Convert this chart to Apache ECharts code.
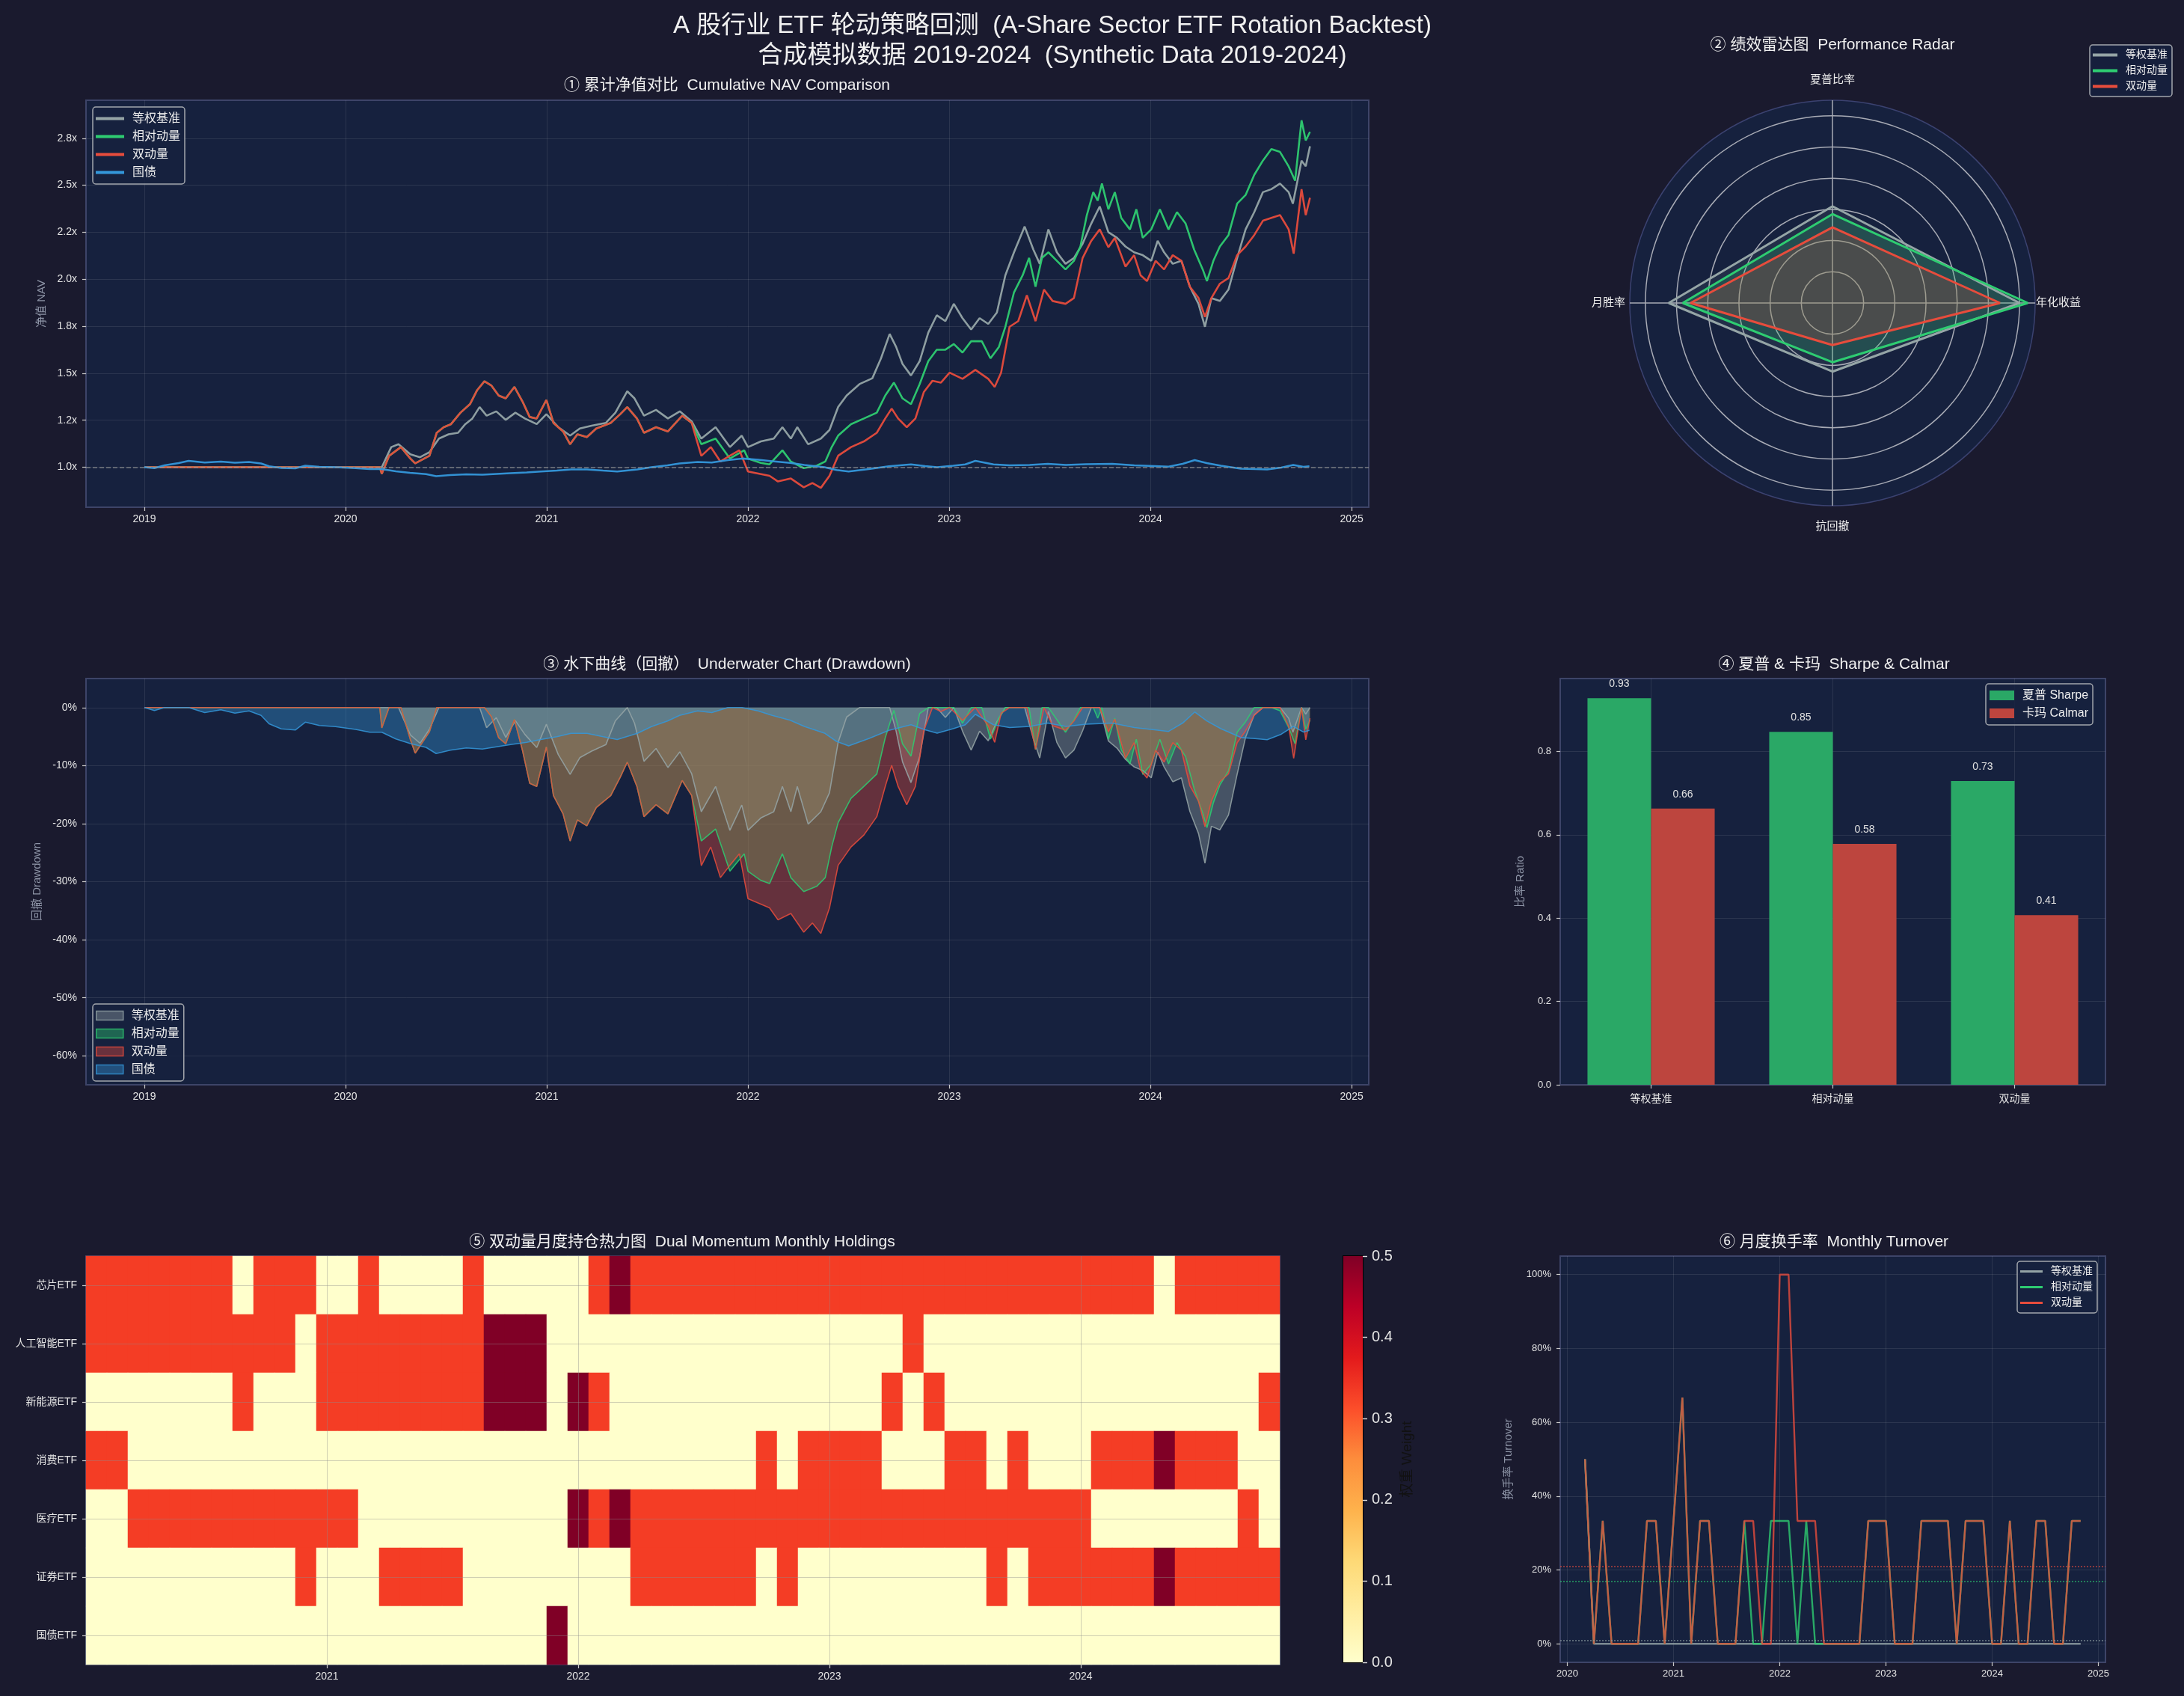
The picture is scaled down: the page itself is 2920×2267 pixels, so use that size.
<!DOCTYPE html>
<html>
<head>
<meta charset="utf-8">
<script src="https://cdn.jsdelivr.net/npm/echarts@6.0.0/dist/echarts.min.js"></script>
<style>
  html, body { margin: 0; padding: 0; background: #1a1a2e; }
  #main { width: 2920px; height: 2267px; }
</style>
</head>
<body>
<div id="main"></div>
<script>
// ---------- data ----------
var names = ['等权基准', '相对动量', '双动量', '国债'];
var colors = ['#95a5a6', '#2ecc71', '#e74c3c', '#3498db'];

var navYears = [2019, 2020, 2021, 2022, 2023, 2024, 2025];
var navTicks = [1.0, 1.25, 1.5, 1.75, 2.0, 2.25, 2.5, 2.75];
var navTickLabels = ['1.0x', '1.2x', '1.5x', '1.8x', '2.0x', '2.2x', '2.5x', '2.8x'];
var ddTicks = [0, -0.1, -0.2, -0.3, -0.4, -0.5, -0.6];

// [decimal year, NAV]
var navEqual = [[2019.00,1.000],[2020.17,1.000],[2020.18,1.000],[2020.227,1.107],[2020.263,1.122],[2020.322,1.069],[2020.370,1.053],[2020.417,1.080],[2020.464,1.152],[2020.512,1.175],[2020.559,1.183],[2020.595,1.229],[2020.630,1.259],[2020.666,1.320],[2020.701,1.274],[2020.749,1.297],[2020.796,1.252],[2020.844,1.290],[2020.891,1.259],[2020.950,1.229],[2020.998,1.282],[2021.057,1.213],[2021.116,1.168],[2021.164,1.206],[2021.223,1.221],[2021.294,1.236],[2021.341,1.290],[2021.400,1.404],[2021.436,1.366],[2021.483,1.274],[2021.543,1.305],[2021.602,1.259],[2021.661,1.297],[2021.720,1.244],[2021.768,1.152],[2021.839,1.213],[2021.910,1.107],[2021.969,1.168],[2022.000,1.107],[2022.064,1.137],[2022.128,1.152],[2022.171,1.213],[2022.213,1.152],[2022.245,1.213],[2022.299,1.122],[2022.362,1.152],[2022.405,1.198],[2022.448,1.320],[2022.490,1.381],[2022.554,1.442],[2022.618,1.473],[2022.661,1.579],[2022.704,1.709],[2022.736,1.640],[2022.768,1.549],[2022.810,1.488],[2022.853,1.564],[2022.896,1.716],[2022.938,1.808],[2022.981,1.777],[2023.023,1.869],[2023.066,1.793],[2023.109,1.732],[2023.151,1.793],[2023.194,1.762],[2023.237,1.823],[2023.279,2.021],[2023.322,2.143],[2023.375,2.280],[2023.418,2.158],[2023.450,2.082],[2023.493,2.265],[2023.535,2.143],[2023.578,2.082],[2023.620,2.113],[2023.663,2.189],[2023.706,2.296],[2023.748,2.387],[2023.791,2.250],[2023.834,2.220],[2023.876,2.174],[2023.919,2.143],[2023.962,2.128],[2024.004,2.098],[2024.036,2.204],[2024.068,2.143],[2024.111,2.082],[2024.154,2.098],[2024.196,1.960],[2024.239,1.869],[2024.271,1.747],[2024.303,1.899],[2024.345,1.884],[2024.388,1.945],[2024.431,2.113],[2024.473,2.265],[2024.516,2.357],[2024.559,2.463],[2024.601,2.479],[2024.644,2.509],[2024.687,2.463],[2024.708,2.402],[2024.751,2.631],[2024.772,2.601],[2024.793,2.707]];

var navRel = [[2019.00,1.000],[2020.17,1.000],[2020.18,0.965],[2020.216,1.060],[2020.275,1.107],[2020.322,1.046],[2020.346,1.020],[2020.417,1.061],[2020.453,1.183],[2020.488,1.213],[2020.524,1.229],[2020.571,1.290],[2020.618,1.335],[2020.654,1.410],[2020.690,1.457],[2020.725,1.434],[2020.761,1.381],[2020.796,1.366],[2020.839,1.427],[2020.879,1.350],[2020.915,1.267],[2020.950,1.259],[2020.998,1.358],[2021.033,1.236],[2021.081,1.190],[2021.116,1.122],[2021.152,1.175],[2021.199,1.160],[2021.246,1.206],[2021.318,1.236],[2021.365,1.282],[2021.400,1.320],[2021.448,1.259],[2021.483,1.183],[2021.543,1.213],[2021.602,1.190],[2021.673,1.274],[2021.720,1.236],[2021.768,1.122],[2021.839,1.152],[2021.910,1.046],[2021.981,1.090],[2022.000,1.046],[2022.064,1.023],[2022.107,1.015],[2022.171,1.090],[2022.213,1.030],[2022.277,0.995],[2022.341,1.008],[2022.384,1.030],[2022.416,1.107],[2022.448,1.168],[2022.512,1.229],[2022.576,1.259],[2022.640,1.290],[2022.682,1.381],[2022.725,1.450],[2022.768,1.366],[2022.810,1.335],[2022.853,1.442],[2022.896,1.564],[2022.938,1.625],[2022.981,1.625],[2023.023,1.655],[2023.066,1.610],[2023.109,1.670],[2023.162,1.670],[2023.205,1.579],[2023.247,1.640],[2023.279,1.747],[2023.322,1.930],[2023.365,2.021],[2023.397,2.113],[2023.429,1.960],[2023.461,2.113],[2023.493,2.143],[2023.535,2.098],[2023.578,2.052],[2023.620,2.098],[2023.652,2.174],[2023.684,2.341],[2023.716,2.463],[2023.738,2.418],[2023.759,2.509],[2023.791,2.372],[2023.823,2.463],[2023.855,2.326],[2023.898,2.265],[2023.930,2.372],[2023.962,2.220],[2024.004,2.265],[2024.047,2.372],[2024.090,2.265],[2024.132,2.357],[2024.175,2.296],[2024.217,2.158],[2024.260,2.052],[2024.281,1.990],[2024.313,2.098],[2024.345,2.174],[2024.388,2.235],[2024.431,2.402],[2024.473,2.448],[2024.516,2.555],[2024.559,2.631],[2024.601,2.692],[2024.644,2.677],[2024.687,2.600],[2024.719,2.524],[2024.751,2.845],[2024.772,2.738],[2024.793,2.784]];

var navDual = [[2019.00,1.000],[2020.17,1.000],[2020.18,0.965],[2020.216,1.060],[2020.275,1.107],[2020.322,1.046],[2020.346,1.020],[2020.417,1.061],[2020.453,1.183],[2020.488,1.213],[2020.524,1.229],[2020.571,1.290],[2020.618,1.335],[2020.654,1.410],[2020.690,1.457],[2020.725,1.434],[2020.761,1.381],[2020.796,1.366],[2020.839,1.427],[2020.879,1.350],[2020.915,1.267],[2020.950,1.259],[2020.998,1.358],[2021.033,1.236],[2021.081,1.190],[2021.116,1.122],[2021.152,1.175],[2021.199,1.160],[2021.246,1.206],[2021.318,1.236],[2021.365,1.282],[2021.400,1.320],[2021.448,1.259],[2021.483,1.183],[2021.543,1.213],[2021.602,1.190],[2021.673,1.274],[2021.720,1.236],[2021.768,1.060],[2021.815,1.107],[2021.863,1.030],[2021.910,1.061],[2021.957,1.090],[2022.000,0.977],[2022.107,0.954],[2022.149,0.924],[2022.213,0.940],[2022.277,0.893],[2022.320,0.916],[2022.362,0.890],[2022.405,0.954],[2022.448,1.061],[2022.512,1.107],[2022.576,1.137],[2022.640,1.183],[2022.682,1.259],[2022.714,1.312],[2022.746,1.259],[2022.789,1.213],[2022.832,1.259],[2022.874,1.400],[2022.917,1.460],[2022.959,1.450],[2023.002,1.503],[2023.066,1.470],[2023.130,1.518],[2023.194,1.470],[2023.226,1.427],[2023.258,1.503],[2023.300,1.747],[2023.343,1.777],[2023.386,1.915],[2023.429,1.777],[2023.471,1.945],[2023.514,1.884],[2023.578,1.869],[2023.620,1.900],[2023.663,2.113],[2023.706,2.204],[2023.748,2.265],[2023.791,2.170],[2023.823,2.220],[2023.876,2.067],[2023.919,2.128],[2023.951,2.021],[2023.983,1.990],[2024.026,2.098],[2024.068,2.052],[2024.111,2.128],[2024.154,2.098],[2024.196,1.960],[2024.239,1.900],[2024.271,1.800],[2024.303,1.900],[2024.345,1.976],[2024.388,2.006],[2024.431,2.128],[2024.473,2.174],[2024.516,2.235],[2024.559,2.311],[2024.601,2.326],[2024.644,2.341],[2024.687,2.265],[2024.712,2.136],[2024.751,2.479],[2024.772,2.341],[2024.793,2.433]];

var navBond = [[2019.00,1.000],[2019.05,0.995],[2019.10,1.010],[2019.17,1.022],[2019.22,1.034],[2019.30,1.025],[2019.38,1.030],[2019.45,1.024],[2019.52,1.028],[2019.58,1.020],[2019.62,1.005],[2019.68,0.996],[2019.75,0.994],[2019.80,1.008],[2019.87,1.002],[2019.95,1.000],[2020.05,0.995],[2020.12,0.990],[2020.18,0.990],[2020.25,0.978],[2020.32,0.970],[2020.40,0.963],[2020.45,0.952],[2020.52,0.958],[2020.60,0.962],[2020.68,0.960],[2020.75,0.964],[2020.82,0.968],[2020.90,0.972],[2020.97,0.977],[2021.05,0.982],[2021.12,0.988],[2021.20,0.988],[2021.28,0.982],[2021.35,0.977],[2021.45,0.988],[2021.52,1.000],[2021.60,1.010],[2021.66,1.020],[2021.75,1.028],[2021.82,1.025],[2021.90,1.038],[2021.97,1.046],[2022.05,1.040],[2022.12,1.032],[2022.21,1.023],[2022.28,1.012],[2022.38,1.000],[2022.44,0.985],[2022.50,0.977],[2022.60,0.990],[2022.70,1.005],[2022.81,1.015],[2022.88,1.006],[2022.94,1.000],[2023.02,1.008],[2023.08,1.015],[2023.13,1.034],[2023.22,1.015],[2023.30,1.010],[2023.40,1.012],[2023.49,1.018],[2023.58,1.012],[2023.68,1.016],[2023.81,1.018],[2023.92,1.010],[2024.02,1.006],[2024.09,1.003],[2024.16,1.018],[2024.22,1.038],[2024.28,1.022],[2024.35,1.008],[2024.45,0.992],[2024.52,0.990],[2024.58,0.988],[2024.65,0.998],[2024.71,1.012],[2024.76,1.002],[2024.79,1.005]];

var radarAxes = ['年化收益', '夏普比率', '月胜率', '抗回撤'];
var radarRings = [0.2, 0.4, 0.6, 0.8, 1.0, 1.2];
var radarEqual = [1.20, 0.62, 1.05, 0.44];
var radarRel = [1.253, 0.57, 0.96, 0.38];
var radarDual = [1.075, 0.485, 0.91, 0.27];

var ratioCats = ['等权基准', '相对动量', '双动量'];
var sharpe = [0.928, 0.847, 0.729];
var calmar = [0.663, 0.578, 0.407];
var ratioTicks = [0, 0.2, 0.4, 0.6, 0.8];

var months = ['2020-02','2020-03','2020-04','2020-05','2020-06','2020-07','2020-08','2020-09','2020-10','2020-11','2020-12',
  '2021-01','2021-02','2021-03','2021-04','2021-05','2021-06','2021-07','2021-08','2021-09','2021-10','2021-11','2021-12',
  '2022-01','2022-02','2022-03','2022-04','2022-05','2022-06','2022-07','2022-08','2022-09','2022-10','2022-11','2022-12',
  '2023-01','2023-02','2023-03','2023-04','2023-05','2023-06','2023-07','2023-08','2023-09','2023-10','2023-11','2023-12',
  '2024-01','2024-02','2024-03','2024-04','2024-05','2024-06','2024-07','2024-08','2024-09','2024-10'];
var etfs = ['芯片ETF', '人工智能ETF', '新能源ETF', '消费ETF', '医疗ETF', '证券ETF', '国债ETF'];
var weightMax = 0.5;
var wChip = [0.333,0.333,0.333,0.333,0.333,0.333,0.333,0,0.333,0.333,0.333,
  0,0,0.333,0,0,0,0,0.333,0,0,0,0,
  0,0.333,0.5,0.333,0.333,0.333,0.333,0.333,0.333,0.333,0.333,0.333,
  0.333,0.333,0.333,0.333,0.333,0.333,0.333,0.333,0.333,0.333,0.333,0.333,
  0.333,0.333,0.333,0.333,0,0.333,0.333,0.333,0.333,0.333];
var wAI = [0.333,0.333,0.333,0.333,0.333,0.333,0.333,0.333,0.333,0.333,0,
  0.333,0.333,0.333,0.333,0.333,0.333,0.333,0.333,0.5,0.5,0.5,0,
  0,0,0,0,0,0,0,0,0,0,0,0,
  0,0,0,0,0.333,0,0,0,0,0,0,0,
  0,0,0,0,0,0,0,0,0,0];
var wNewEnergy = [0,0,0,0,0,0,0,0.333,0,0,0,
  0.333,0.333,0.333,0.333,0.333,0.333,0.333,0.333,0.5,0.5,0.5,0,
  0.5,0.333,0,0,0,0,0,0,0,0,0,0,
  0,0,0,0.333,0,0.333,0,0,0,0,0,0,
  0,0,0,0,0,0,0,0,0,0.333];
var wConsumer = [0.333,0.333,0,0,0,0,0,0,0,0,0,
  0,0,0,0,0,0,0,0,0,0,0,0,
  0,0,0,0,0,0,0,0,0,0.333,0,0.333,
  0.333,0.333,0.333,0,0,0,0.333,0.333,0,0.333,0,0,
  0,0.333,0.333,0.333,0.5,0.333,0.333,0.333,0,0];
var wMedical = [0,0,0.333,0.333,0.333,0.333,0.333,0.333,0.333,0.333,0.333,
  0.333,0.333,0,0,0,0,0,0,0,0,0,0,
  0.5,0.333,0.5,0.333,0.333,0.333,0.333,0.333,0.333,0.333,0.333,0.333,
  0.333,0.333,0.333,0.333,0.333,0.333,0.333,0.333,0.333,0.333,0.333,0.333,
  0.333,0,0,0,0,0,0,0,0.333,0];
var wBroker = [0,0,0,0,0,0,0,0,0,0,0.333,
  0,0,0,0.333,0.333,0.333,0.333,0,0,0,0,0,
  0,0,0,0.333,0.333,0.333,0.333,0.333,0.333,0,0.333,0,
  0,0,0,0,0,0,0,0,0.333,0,0.333,0.333,
  0.333,0.333,0.333,0.333,0.5,0.333,0.333,0.333,0.333,0.333];
var wBond = [0,0,0,0,0,0,0,0,0,0,0,
  0,0,0,0,0,0,0,0,0,0,0,1,
  0,0,0,0,0,0,0,0,0,0,0,0,
  0,0,0,0,0,0,0,0,0,0,0,0,
  0,0,0,0,0,0,0,0,0,0];
var ylorrd = ['#ffffcc', '#ffeda0', '#fed976', '#feb24c', '#fd8d3c', '#fc4e2a', '#e31a1c', '#bd0026', '#800026'];

var turnYears = [2020, 2021, 2022, 2023, 2024, 2025];
var turnTicks = [0, 0.2, 0.4, 0.6, 0.8, 1.0];
var turnEqual = [0.5,0,0,0,0,0,0,0,0,0,0,
  0,0,0,0,0,0,0,0,0,0,0,0,
  0,0,0,0,0,0,0,0,0,0,0,0,
  0,0,0,0,0,0,0,0,0,0,0,0,
  0,0,0,0,0,0,0,0,0,0];
var turnRel = [0.5,0,0.333,0,0,0,0,0.333,0.333,0,0.333,
  0.667,0,0.333,0.333,0,0,0,0.333,0,0,0.333,0.333,
  0.333,0,0.333,0,0,0,0,0,0,0.333,0.333,0.333,
  0,0,0,0.333,0.333,0.333,0.333,0,0.333,0.333,0.333,0,
  0,0.333,0,0,0.333,0.333,0,0,0.333,0.333];
var turnDual = [0.5,0,0.333,0,0,0,0,0.333,0.333,0,0.333,
  0.667,0,0.333,0.333,0,0,0,0.333,0.333,0,0,1,
  1,0.333,0.333,0.333,0,0,0,0,0,0.333,0.333,0.333,
  0,0,0,0.333,0.333,0.333,0.333,0,0.333,0.333,0.333,0,
  0,0.333,0,0,0.333,0.333,0,0,0.333,0.333];

// ---------- helpers ----------
var FONT = "'Liberation Sans', 'Noto Sans CJK SC', sans-serif";
var TXT = '#e4e4e4';
var SUB = '#8d94a6';
var GRID_LINE = 'rgba(255,255,255,0.09)';
var PLOT_BG = '#16213e';
var SPINE = '#3d4468';
var RING = '#a8abb5';
var NO_LINE = { show: false, onZero: false };

function rgba(hex, a) {
  var n = parseInt(hex.slice(1), 16);
  return 'rgba(' + (n >> 16) + ',' + ((n >> 8) & 255) + ',' + (n & 255) + ',' + a + ')';
}
function nearest(arr, v) {
  var best = 0;
  for (var i = 1; i < arr.length; i++) if (Math.abs(arr[i] - v) < Math.abs(arr[best] - v)) best = i;
  return best;
}
function drawdown(nav) {
  var peak = -Infinity;
  return nav.map(function (p) {
    peak = Math.max(peak, p[1]);
    return [p[0], p[1] / peak - 1];
  });
}
function closeLoop(vals) {
  var pts = vals.map(function (v, i) { return [v, i * 360 / vals.length]; });
  pts.push([vals[0], 360]);
  return pts;
}
function tick(vals, len) {
  return { show: true, length: len || 5, customValues: vals, lineStyle: { color: '#c8c8c8', width: 1.2 } };
}
function label(vals, fmt, extra) {
  var o = { customValues: vals, formatter: fmt, color: TXT, fontSize: 14, fontFamily: FONT, margin: 10 };
  for (var k in extra) o[k] = extra[k];
  return o;
}
function split(color) {
  return { show: true, lineStyle: { color: color || GRID_LINE, width: 1 } };
}
function plotGrid(l, t, w, h) {
  return { left: l, top: t, width: w, height: h, show: true, backgroundColor: PLOT_BG,
    borderColor: SPINE, borderWidth: 2, containLabel: false, outerBoundsMode: 'none' };
}
function yearFmt(v) { return String(Math.round(v)); }
function pctFmt(v) { return Math.round(v * 100) + '%'; }
function nameStyle() { return { color: SUB, fontSize: 15, fontFamily: FONT }; }
function legendBox(extra) {
  var o = { orient: 'vertical', selectedMode: false, backgroundColor: 'rgba(22,33,62,0.85)',
    borderColor: '#a3a7ad', borderWidth: 1.5, borderRadius: 4,
    textStyle: { color: '#eeeeee', fontFamily: FONT, fontSize: 16, lineHeight: 19, padding: [0, 0, 0, 6] } };
  for (var k in extra) o[k] = extra[k];
  return o;
}
function radarRich(pad) {
  return { color: '#ececec', fontSize: 15, fontFamily: FONT, padding: pad };
}

var navSeries = [navEqual, navRel, navDual, navBond];
var monthPos = months.map(function (m) { return +m.slice(0, 4) + (+m.slice(5)) / 12; });
var yearIdx = [];
months.forEach(function (m, i) { if (m.slice(5) === '01') yearIdx.push(i); });
var etfIdx = etfs.map(function (e, i) { return i; });
var weights = [wChip, wAI, wNewEnergy, wConsumer, wMedical, wBroker, wBond];
var heatData = [];
weights.forEach(function (row, r) { row.forEach(function (w, c) { heatData.push([c, r, w]); }); });

var titleText = 'A 股行业 ETF 轮动策略回测  (A-Share Sector ETF Rotation Backtest)\n合成模拟数据 2019-2024  (Synthetic Data 2019-2024)';
var panelTitles = [
  ['① 累计净值对比  Cumulative NAV Comparison', 972, 104],
  ['② 绩效雷达图  Performance Radar', 2450, 50],
  ['③ 水下曲线（回撤）  Underwater Chart (Drawdown)', 972, 878],
  ['④ 夏普 & 卡玛  Sharpe & Calmar', 2452, 878],
  ['⑤ 双动量月度持仓热力图  Dual Momentum Monthly Holdings', 912, 1650],
  ['⑥ 月度换手率  Monthly Turnover', 2452, 1650]
];

// ---------- option ----------
var titles = [{ text: titleText, left: 1407, top: 15, textAlign: 'center', padding: 0,
  textStyle: { color: '#f0f0f0', fontSize: 33, lineHeight: 40, fontWeight: 'normal', fontFamily: FONT } }];
panelTitles.forEach(function (t) {
  titles.push({ text: t[0], left: t[1], top: t[2], textAlign: 'center', padding: 0,
    textStyle: { color: '#f0f0f0', fontSize: 21, fontWeight: 'normal', fontFamily: FONT } });
});

var series = [];
// NAV lines
navSeries.forEach(function (d, i) {
  var s = { type: 'line', name: names[i], xAxisIndex: 0, yAxisIndex: 0, data: d, symbol: 'none',
    lineStyle: { color: colors[i], width: 2.6, opacity: 0.95 }, itemStyle: { color: colors[i] } };
  if (i === 0) {
    s.markLine = { silent: true, symbol: 'none', label: { show: false },
      lineStyle: { color: '#9a9a9a', type: 'dashed', width: 1.5, opacity: 0.7 }, data: [{ yAxis: 1 }] };
  }
  series.push(s);
});
// drawdown areas
navSeries.forEach(function (d, i) {
  series.push({ type: 'line', name: names[i], xAxisIndex: 1, yAxisIndex: 1, data: drawdown(d), symbol: 'none',
    lineStyle: { color: colors[i], width: 1.6, opacity: 0.85 }, itemStyle: { color: colors[i] },
    areaStyle: { color: colors[i], opacity: 0.38 } });
});
// radar (polar)
[radarEqual, radarRel, radarDual].forEach(function (vals, i) {
  series.push({ type: 'line', name: names[i], coordinateSystem: 'polar', polarIndex: 1, data: closeLoop(vals),
    symbol: 'none', z: 3,
    lineStyle: { color: colors[i], width: 3 }, itemStyle: { color: colors[i] },
    areaStyle: { color: colors[i], opacity: i === 0 ? 0.1 : 0.2 } });
});
// ratio bars
series.push({ type: 'bar', name: '夏普 Sharpe', xAxisIndex: 2, yAxisIndex: 2, data: sharpe, barWidth: '35%', barGap: '0%',
  itemStyle: { color: '#2aa866' },
  label: { show: true, position: 'top', distance: 12, color: '#e0e0e0', fontSize: 14, fontFamily: FONT,
    formatter: function (p) { return p.value.toFixed(2); } } });
series.push({ type: 'bar', name: '卡玛 Calmar', xAxisIndex: 2, yAxisIndex: 2, data: calmar, barWidth: '35%', barGap: '0%',
  itemStyle: { color: '#bd453e' },
  label: { show: true, position: 'top', distance: 12, color: '#e0e0e0', fontSize: 14, fontFamily: FONT,
    formatter: function (p) { return p.value.toFixed(2); } } });
var heatIndex = series.length;
series.push({ type: 'heatmap', xAxisIndex: 4, yAxisIndex: 3, data: heatData, silent: true,
  itemStyle: { borderWidth: 0 } });
// turnover
[turnEqual, turnRel, turnDual].forEach(function (vals, i) {
  series.push({ type: 'line', name: names[i], xAxisIndex: 6, yAxisIndex: 5, symbol: 'none',
    data: vals.map(function (v, k) { return [monthPos[k], v]; }),
    lineStyle: { color: colors[i], width: 2.4, opacity: 0.8 }, itemStyle: { color: colors[i] },
    markLine: { silent: true, symbol: 'none', label: { show: false },
      lineStyle: { color: colors[i], type: 'dotted', width: 2, opacity: 0.55 },
      data: [{ type: 'average', valueDim: 'y' }] } });
});
// colorbar
series.push({ type: 'bar', xAxisIndex: 7, yAxisIndex: 6, data: [weightMax], barWidth: '100%', silent: true,
  itemStyle: { color: { type: 'linear', x: 0, y: 1, x2: 0, y2: 0,
    colorStops: ylorrd.map(function (c, i) { return { offset: i / (ylorrd.length - 1), color: c }; }) } } });

var option = {
  backgroundColor: '#1a1a2e',
  animation: false,
  textStyle: { fontFamily: FONT },
  title: titles,
  grid: [
    plotGrid(115, 134, 1715, 544),
    plotGrid(115, 907, 1715, 543),
    plotGrid(2086, 907, 729, 543),
    plotGrid(115, 1679, 1596, 546),
    plotGrid(2086, 1679, 729, 543),
    { left: 1796, top: 1679, width: 26, height: 543, show: true, borderColor: '#000', borderWidth: 2,
      backgroundColor: 'transparent', containLabel: false, outerBoundsMode: 'none' }
  ],
  // polar 0 paints the disc, polar 1 carries rings, spokes, labels and the polygons
  polar: [{ center: [2450, 405], radius: 271 }, { center: [2450, 405], radius: 271 }],
  angleAxis: [
    { polarIndex: 0, type: 'value', min: 0, max: 360, interval: 90, startAngle: 0, clockwise: false, z: 0,
      axisLine: { show: true, lineStyle: { color: '#3b4270', width: 1.5 } },
      axisTick: { show: false }, axisLabel: { show: false }, splitLine: { show: false },
      splitArea: { show: true, areaStyle: { color: [PLOT_BG] } } },
    { polarIndex: 1, type: 'value', min: 0, max: 360, interval: 90, startAngle: 0, clockwise: false, z: 1,
      axisLine: { show: false },
      axisTick: { show: false, customValues: [0, 90, 180, 270] },
      axisLabel: { customValues: [0, 90, 180, 270], margin: 1,
        formatter: function (v) { var i = Math.round(v / 90); return radarAxes[i] ? '{a' + i + '|' + radarAxes[i] + '}' : ''; },
        rich: { a0: radarRich([0, 0, 0, 0]), a1: radarRich([0, 0, 19, 0]), a2: radarRich([0, 5, 0, 0]), a3: radarRich([19, 0, 0, 0]) } },
      splitLine: { show: true, lineStyle: { color: RING, width: 1.5 } },
      splitArea: { show: false } }
  ],
  radiusAxis: [
    { polarIndex: 0, type: 'value', min: 0, max: 1.3, show: false },
    { polarIndex: 1, type: 'value', min: 0, max: 1.3, z: 1,
      axisLine: { show: false }, axisTick: { show: false, customValues: radarRings },
      axisLabel: { show: false, customValues: radarRings },
      splitLine: { show: true, lineStyle: { color: RING, width: 1.5 } } }
  ],
  xAxis: [
    { gridIndex: 0, type: 'value', min: 2018.71, max: 2025.085, axisLine: NO_LINE,
      axisTick: tick(navYears), axisLabel: label(navYears, yearFmt, { margin: 9 }), splitLine: split() },
    { gridIndex: 1, type: 'value', min: 2018.71, max: 2025.085, axisLine: NO_LINE,
      axisTick: tick(navYears), axisLabel: label(navYears, yearFmt, { margin: 9 }), splitLine: split() },
    { gridIndex: 2, type: 'category', data: ratioCats, axisLine: NO_LINE,
      axisTick: { show: true, alignWithLabel: true, length: 5, lineStyle: { color: '#c8c8c8', width: 1.2 } },
      axisLabel: { color: TXT, fontSize: 14, fontFamily: FONT, margin: 12 }, splitLine: { show: false } },
    { gridIndex: 2, type: 'value', position: 'top', min: -0.5, max: 2.5, axisLine: NO_LINE,
      axisTick: { show: false, customValues: [0, 1, 2] }, axisLabel: { show: false, customValues: [0, 1, 2] },
      splitLine: split() },
    { gridIndex: 3, type: 'category', position: 'top', data: months, show: false, axisLine: NO_LINE },
    { gridIndex: 3, type: 'value', position: 'bottom', min: -0.5, max: months.length - 0.5, z: 5,
      axisLine: NO_LINE, axisTick: tick(yearIdx),
      axisLabel: label(yearIdx, function (v) { return months[Math.round(v)].slice(0, 4); }, { margin: 9 }),
      splitLine: split('rgba(140,140,140,0.42)') },
    { gridIndex: 4, type: 'value', min: 2019.933, max: 2025.067, axisLine: NO_LINE,
      axisTick: tick(turnYears), axisLabel: label(turnYears, yearFmt, { margin: 9, fontSize: 13 }), splitLine: split() },
    { gridIndex: 5, type: 'category', data: ['w'], show: false, axisLine: NO_LINE }
  ],
  yAxis: [
    { gridIndex: 0, type: 'value', min: 0.787, max: 2.952, axisLine: NO_LINE,
      name: '净值 NAV', nameLocation: 'middle', nameGap: 52, nameTextStyle: nameStyle(),
      axisTick: tick(navTicks),
      axisLabel: label(navTicks, function (v) { return navTickLabels[nearest(navTicks, v)]; }, { margin: 12 }),
      splitLine: split() },
    { gridIndex: 1, type: 'value', min: -0.65, max: 0.05, axisLine: NO_LINE,
      name: '回撤 Drawdown', nameLocation: 'middle', nameGap: 58, nameTextStyle: nameStyle(),
      axisTick: tick(ddTicks), axisLabel: label(ddTicks, pctFmt, { margin: 12 }), splitLine: split() },
    { gridIndex: 2, type: 'value', min: 0, max: 0.975, axisLine: NO_LINE,
      name: '比率 Ratio', nameLocation: 'middle', nameGap: 46, nameTextStyle: nameStyle(),
      axisTick: tick(ratioTicks),
      axisLabel: label(ratioTicks, function (v) { return v.toFixed(1); }, { margin: 12, fontSize: 13 }),
      splitLine: split() },
    { gridIndex: 3, type: 'category', position: 'right', data: etfs, inverse: true, show: false, axisLine: NO_LINE },
    { gridIndex: 3, type: 'value', position: 'left', min: -0.5, max: etfs.length - 0.5, inverse: true, z: 5,
      axisLine: NO_LINE, axisTick: tick(etfIdx),
      axisLabel: label(etfIdx, function (v) { return etfs[Math.round(v)]; }, { margin: 12 }),
      splitLine: split('rgba(140,140,140,0.42)') },
    { gridIndex: 4, type: 'value', min: -0.05, max: 1.05, axisLine: NO_LINE,
      name: '换手率 Turnover', nameLocation: 'middle', nameGap: 62, nameTextStyle: nameStyle(),
      axisTick: tick(turnTicks), axisLabel: label(turnTicks, pctFmt, { margin: 12, fontSize: 13 }), splitLine: split() },
    { gridIndex: 5, type: 'value', position: 'right', min: 0, max: weightMax, interval: 0.1, axisLine: NO_LINE,
      name: '权重 Weight', nameLocation: 'middle', nameGap: 50, nameRotate: 90,
      nameTextStyle: { color: '#111111', fontSize: 19, fontFamily: FONT },
      axisTick: { show: true, length: 6, lineStyle: { color: '#dddddd', width: 1.4 } },
      axisLabel: { color: TXT, fontSize: 20, fontFamily: FONT, margin: 12,
        formatter: function (v) { return v.toFixed(1); } },
      splitLine: { show: false } }
  ],
  visualMap: { type: 'continuous', show: false, seriesIndex: heatIndex, min: 0, max: weightMax,
    inRange: { color: ylorrd }, outOfRange: { color: '#800026' } },
  legend: [
    legendBox({ left: 124, top: 143, padding: [6, 6, 6, 4], itemWidth: 38, itemHeight: 4, itemGap: 5,
      data: names.map(function (n, i) { return { name: n, icon: 'rect', itemStyle: { color: colors[i] } }; }) }),
    legendBox({ left: 124, top: 1342, padding: [6, 6, 6, 4], itemWidth: 36, itemHeight: 12, itemGap: 5,
      data: names.map(function (n, i) {
        return { name: n, icon: 'rect', itemStyle: { color: rgba(colors[i], 0.4), borderColor: rgba(colors[i], 0.8), borderWidth: 1.5 } };
      }) }),
    legendBox({ left: 2794, top: 60, padding: [5, 6, 5, 4], itemWidth: 33, itemHeight: 4, itemGap: 4,
      textStyle: { color: '#eeeeee', fontFamily: FONT, fontSize: 14, lineHeight: 17, padding: [0, 0, 0, 6] },
      data: names.slice(0, 3).map(function (n, i) { return { name: n, icon: 'rect', itemStyle: { color: colors[i] } }; }) }),
    legendBox({ left: 2655, top: 914, padding: [6, 6, 6, 5], itemWidth: 33, itemHeight: 13, itemGap: 5,
      data: [{ name: '夏普 Sharpe', icon: 'rect', itemStyle: { color: '#2aa866' } },
             { name: '卡玛 Calmar', icon: 'rect', itemStyle: { color: '#bd453e' } }] }),
    legendBox({ left: 2697, top: 1686, padding: [5, 6, 5, 4], itemWidth: 30, itemHeight: 3, itemGap: 4,
      textStyle: { color: '#eeeeee', fontFamily: FONT, fontSize: 14, lineHeight: 17, padding: [0, 0, 0, 6] },
      data: names.slice(0, 3).map(function (n, i) { return { name: n, icon: 'rect', itemStyle: { color: colors[i] } }; }) })
  ],
  series: series
};

var chart = echarts.init(document.getElementById('main'));
chart.setOption(option);
</script>
</body>
</html>
